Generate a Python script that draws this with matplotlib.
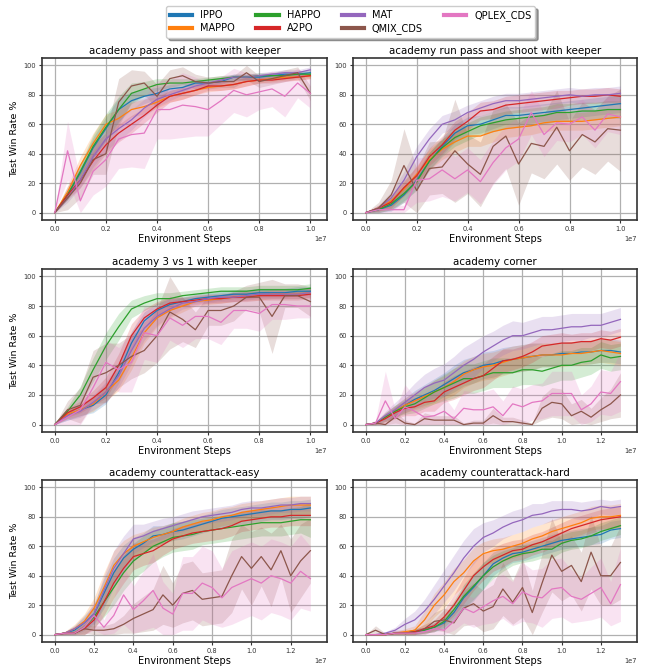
import matplotlib
matplotlib.use("Agg")
import matplotlib.pyplot as plt
import numpy as np

# ---------------- data ----------------
algos = ["IPPO", "MAPPO", "HAPPO", "A2PO", "MAT", "QMIX_CDS", "QPLEX_CDS"]
colors = ["#1f77b4", "#ff7f0e", "#2ca02c", "#d62728", "#9467bd", "#8c564b", "#e377c2"]

steps_10 = [0, 0.05, 0.1, 0.15, 0.2, 0.25, 0.3, 0.35, 0.4, 0.45, 0.5, 0.55, 0.6,
            0.65, 0.7, 0.75, 0.8, 0.85, 0.9, 0.95, 1.0]
steps_13 = [0, 0.05, 0.1, 0.15, 0.2, 0.25, 0.3, 0.35, 0.4, 0.45, 0.5, 0.55, 0.6,
            0.65, 0.7, 0.75, 0.8, 0.85, 0.9, 0.95, 1.0, 1.05, 1.1, 1.15, 1.2, 1.25, 1.3]

titles = ["academy pass and shoot with keeper", "academy run pass and shoot with keeper",
          "academy 3 vs 1 with keeper", "academy corner",
          "academy counterattack-easy", "academy counterattack-hard"]

# panel 1: pass and shoot with keeper
ps_ippo = [0,12,27,44,57,70,76,79,81,84,85,88,88,89,92,92,92,93,94,94,95]
ps_mappo = [0,14,32,47,60,64,70,72,75,79,81,83,85,86,87,89,90,91,92,92,93]
ps_happo = [0,12,28,45,58,70,81,84,87,88,88,89,90,91,92,92,93,93,93,94,94]
ps_a2po = [0,12,22,35,46,54,60,66,73,79,81,83,86,86,87,89,90,90,91,92,93]
ps_mat = [0,10,22,38,50,57,63,71,77,80,83,86,88,90,92,92,93,94,95,95,97]
ps_qmix = [0,10,20,36,40,75,86,88,79,91,93,89,88,89,89,95,89,91,93,95,81]
ps_qplex = [0,42,8,28,36,50,53,54,70,70,73,72,70,76,83,80,82,84,79,88,81]
ps_ippo_sd = [0,3,5,7,8,8,6,5,4,3,3,2,2,2,2,2,2,2,2,2,2]
ps_mappo_sd = [0,4,6,7,7,6,5,5,4,4,4,3,3,3,3,3,2,2,2,2,2]
ps_happo_sd = [0,3,5,8,9,9,7,5,4,3,3,2,2,2,2,2,2,2,2,2,2]
ps_a2po_sd = [0,3,5,6,6,6,6,5,5,4,4,3,3,3,3,3,2,2,2,2,2]
ps_mat_sd = [0,3,5,7,8,8,7,6,5,4,3,3,2,2,2,2,2,2,2,2,2]
ps_qmix_sd = [0,8,10,10,14,16,11,8,8,6,6,5,4,4,4,5,4,4,4,4,5]
ps_qplex_sd = [0,20,14,16,18,20,22,24,20,20,22,20,18,16,15,15,12,12,14,10,10]

# panel 2: run pass and shoot with keeper
rps_ippo = [0,2,5,12,22,35,45,54,59,60,63,66,66,67,68,69,70,71,72,73,74]
rps_mappo = [0,3,8,16,26,36,43,48,52,52,55,57,58,59,61,62,62,62,63,64,65]
rps_happo = [0,2,6,13,21,35,44,51,55,59,61,63,64,65,66,68,68,69,69,70,70]
rps_a2po = [0,3,7,17,25,38,46,56,62,69,70,73,74,75,76,77,78,79,79,80,79]
rps_mat = [0,3,10,22,38,50,60,63,68,71,74,76,76,77,78,79,80,79,80,80,81]
rps_qmix = [0,3,12,32,15,30,31,42,33,26,45,52,33,47,45,58,42,53,48,57,56]
rps_qplex = [0,2,2,2,22,23,29,23,29,21,34,44,50,68,53,61,60,65,56,67,65]
rps_ippo_sd = [0,2,4,5,6,6,6,6,6,6,6,6,6,6,6,6,6,6,6,6,6]
rps_mappo_sd = [0,2,4,5,6,7,7,7,7,7,7,6,6,6,6,6,6,6,6,6,6]
rps_happo_sd = [0,2,4,5,6,6,6,6,6,6,6,6,6,6,6,6,6,6,6,6,6]
rps_a2po_sd = [0,2,4,5,6,6,6,6,6,6,6,6,6,6,6,6,5,5,5,5,5]
rps_mat_sd = [0,2,4,6,7,7,6,6,5,5,5,5,5,5,5,5,5,5,5,5,5]
rps_qmix_sd = [0,4,10,25,15,18,18,35,20,22,25,22,28,20,22,25,20,22,22,22,28]
rps_qplex_sd = [0,2,3,3,15,15,18,15,15,15,15,15,15,15,15,12,12,12,12,12,12]

# panel 3: 3 vs 1 with keeper
v31_ippo = [0,6,10,13,20,35,55,70,77,81,83,85,86,87,88,88,89,89,89,90,90]
v31_mappo = [0,7,10,14,22,30,45,62,72,77,80,83,84,85,86,87,87,88,88,88,89]
v31_happo = [0,9,20,37,53,66,78,82,85,85,87,88,89,90,90,90,91,91,91,91,92]
v31_a2po = [0,8,12,18,25,40,60,72,78,82,83,84,85,85,86,86,87,87,87,87,88]
v31_mat = [0,6,9,15,22,33,50,65,73,78,82,83,85,86,86,87,88,88,88,88,89]
v31_qmix = [0,10,13,32,35,40,46,50,60,76,71,64,77,77,80,86,86,73,87,87,83]
v31_qplex = [0,5,10,25,42,37,42,62,60,72,67,73,73,69,77,77,75,81,81,80,80]
v31_ippo_sd = [0,3,4,5,6,7,8,6,5,4,3,3,3,3,3,3,3,3,3,3,3]
v31_mappo_sd = [0,3,4,5,6,7,8,7,6,5,4,3,3,3,3,3,3,3,3,3,3]
v31_happo_sd = [0,3,6,8,9,9,6,5,4,4,3,3,3,3,3,3,3,3,3,3,3]
v31_a2po_sd = [0,3,4,5,7,8,8,6,5,4,3,3,3,3,3,3,3,3,3,3,3]
v31_mat_sd = [0,3,4,5,7,8,9,8,6,5,4,3,3,3,3,3,3,3,3,3,3]
v31_qmix_sd = [0,6,12,18,20,15,15,15,18,25,15,12,10,10,10,8,10,25,8,8,10]
v31_qplex_sd = [0,5,10,12,15,15,20,18,18,15,15,15,15,15,12,12,12,10,10,8,8]

# panel 4: corner
cor_ippo = [0,1,5,9,13,17,20,23,27,31,35,37,40,41,43,44,45,46,47,47,48,48,49,49,50,50,49]
cor_mappo = [0,1,5,9,13,16,19,22,25,29,34,37,39,40,42,44,45,46,47,47,47,48,48,49,50,49,48]
cor_happo = [0,1,5,9,12,14,18,22,25,28,31,31,33,35,35,35,37,37,36,38,40,40,42,43,47,45,46]
cor_a2po = [0,1,4,8,11,12,15,16,22,25,28,31,33,38,43,44,46,49,53,54,55,55,56,56,58,57,59]
cor_mat = [0,1,6,10,15,20,25,28,30,35,40,44,49,53,57,60,60,62,64,64,65,66,66,67,67,69,71]
cor_qmix = [0,1,0,5,1,0,4,3,3,3,0,1,1,6,2,2,1,0,11,15,14,6,9,5,10,14,20]
cor_qplex = [0,1,16,4,12,9,5,6,9,4,11,10,10,12,6,14,12,15,16,21,21,21,10,14,22,21,29]
cor_ippo_sd = [0,1,3,4,5,6,7,8,8,9,9,9,9,9,9,9,9,9,8,8,8,8,8,8,8,8,8]
cor_mappo_sd = [0,1,3,4,5,6,7,8,8,9,9,9,9,9,9,9,9,9,8,8,8,8,8,8,8,8,8]
cor_happo_sd = [0,1,3,4,5,6,7,8,9,10,10,10,10,10,10,10,10,10,10,10,10,10,10,9,9,9,9]
cor_a2po_sd = [0,1,3,4,5,6,6,7,7,8,8,8,8,8,8,7,7,7,7,7,7,6,6,6,6,6,6]
cor_mat_sd = [0,1,3,5,6,8,9,10,11,11,12,12,11,10,10,10,9,9,9,9,9,9,9,8,8,8,8]
cor_qmix_sd = [0,1,1,4,2,1,4,3,3,3,1,2,2,5,3,3,2,1,8,10,10,8,8,6,8,10,15]
cor_qplex_sd = [0,2,20,6,15,10,8,8,10,6,12,12,12,12,10,12,12,12,12,15,15,15,10,12,15,15,20]

# panel 5: counterattack-easy
cae_ippo = [0,1,3,8,14,28,42,52,58,62,67,68,70,71,73,75,77,79,80,81,82,83,84,84,85,85,86]
cae_mappo = [0,1,4,9,18,32,47,55,60,63,66,68,70,73,75,77,78,80,81,83,84,85,86,87,88,88,88]
cae_happo = [0,1,1,5,12,22,32,42,50,55,60,63,66,67,68,70,71,72,73,74,75,76,76,76,77,78,78]
cae_a2po = [0,1,1,4,10,22,35,45,53,55,57,61,65,67,69,70,71,72,74,77,78,79,80,80,81,81,81]
cae_mat = [0,1,4,8,14,30,45,55,65,67,70,72,74,76,78,80,81,82,83,85,86,86,87,88,88,89,89]
cae_qmix = [0,1,1,4,3,3,4,7,11,14,17,27,20,28,30,24,25,26,40,53,45,53,44,57,40,50,57]
cae_qplex = [0,1,1,5,13,5,13,27,17,23,30,18,14,28,28,35,32,25,32,35,38,35,40,38,35,43,38]
cae_ippo_sd = [0,1,3,5,7,10,10,9,8,7,7,6,6,6,6,6,6,6,6,6,6,6,6,6,6,6,6]
cae_mappo_sd = [0,1,3,5,7,10,10,9,8,7,7,6,6,6,6,6,6,6,6,6,6,6,6,6,6,6,6]
cae_happo_sd = [0,1,2,5,7,10,12,12,12,12,11,10,10,10,10,9,9,9,9,9,9,9,9,9,9,9,12]
cae_a2po_sd = [0,1,2,4,6,9,10,10,9,8,8,7,7,7,7,7,7,7,7,7,7,7,7,7,7,7,7]
cae_mat_sd = [0,1,2,4,6,10,12,12,10,8,7,7,6,6,6,5,5,5,5,5,5,5,5,5,5,5,5]
cae_qmix_sd = [0,1,1,3,3,3,4,6,10,12,14,20,15,20,20,18,18,18,25,22,25,20,25,18,25,25,22]
cae_qplex_sd = [0,1,1,5,10,5,12,20,16,20,25,18,14,25,25,25,25,20,25,25,25,25,25,25,25,25,22]

# panel 6: counterattack-hard
cah_ippo = [0,0,0,1,1,2,3,5,8,15,25,32,40,48,52,55,56,58,60,62,64,65,66,67,68,71,72]
cah_mappo = [0,0,0,1,2,3,10,20,27,36,42,50,55,57,58,60,62,65,67,70,72,74,76,79,80,80,81]
cah_happo = [0,0,0,1,1,2,3,5,9,17,26,33,40,46,50,53,55,56,58,58,62,64,65,67,70,72,74]
cah_a2po = [0,0,0,1,1,2,4,6,12,20,30,40,46,51,54,57,58,61,63,66,69,72,74,76,78,79,80]
cah_mat = [0,0,1,3,7,10,16,24,33,42,52,60,66,69,73,76,78,81,82,84,85,85,84,85,87,86,87]
cah_qmix = [0,3,0,1,1,1,4,9,10,8,18,21,16,19,31,22,32,15,35,54,43,47,36,56,40,40,49]
cah_qplex = [0,0,0,1,1,1,2,4,3,9,18,15,19,23,26,21,29,26,25,31,32,26,24,28,32,21,34]
cah_ippo_sd = [0,0,0,1,1,2,2,3,4,6,8,9,9,8,7,6,6,6,6,6,6,6,6,6,6,6,6]
cah_mappo_sd = [0,0,0,1,2,3,6,8,9,9,9,9,8,8,8,8,8,8,8,8,8,8,8,8,8,8,8]
cah_happo_sd = [0,0,0,1,1,2,2,3,4,6,8,9,9,8,7,6,6,6,6,6,6,6,6,6,6,6,6]
cah_a2po_sd = [0,0,0,1,1,2,3,4,5,7,9,10,9,8,8,7,7,7,7,7,7,7,7,7,7,7,7]
cah_mat_sd = [0,0,1,2,4,6,8,10,11,12,12,12,10,9,8,8,8,8,7,7,6,6,6,6,5,5,5]
cah_qmix_sd = [0,3,1,2,2,2,4,6,8,8,12,14,14,15,18,15,20,15,20,25,20,20,20,25,20,20,25]
cah_qplex_sd = [0,1,1,2,2,2,3,4,4,6,10,10,12,15,15,15,20,18,20,20,20,18,15,18,20,15,25]

panels = [
    (steps_10, [ps_ippo, ps_mappo, ps_happo, ps_a2po, ps_mat, ps_qmix, ps_qplex],
     [ps_ippo_sd, ps_mappo_sd, ps_happo_sd, ps_a2po_sd, ps_mat_sd, ps_qmix_sd, ps_qplex_sd]),
    (steps_10, [rps_ippo, rps_mappo, rps_happo, rps_a2po, rps_mat, rps_qmix, rps_qplex],
     [rps_ippo_sd, rps_mappo_sd, rps_happo_sd, rps_a2po_sd, rps_mat_sd, rps_qmix_sd, rps_qplex_sd]),
    (steps_10, [v31_ippo, v31_mappo, v31_happo, v31_a2po, v31_mat, v31_qmix, v31_qplex],
     [v31_ippo_sd, v31_mappo_sd, v31_happo_sd, v31_a2po_sd, v31_mat_sd, v31_qmix_sd, v31_qplex_sd]),
    (steps_13, [cor_ippo, cor_mappo, cor_happo, cor_a2po, cor_mat, cor_qmix, cor_qplex],
     [cor_ippo_sd, cor_mappo_sd, cor_happo_sd, cor_a2po_sd, cor_mat_sd, cor_qmix_sd, cor_qplex_sd]),
    (steps_13, [cae_ippo, cae_mappo, cae_happo, cae_a2po, cae_mat, cae_qmix, cae_qplex],
     [cae_ippo_sd, cae_mappo_sd, cae_happo_sd, cae_a2po_sd, cae_mat_sd, cae_qmix_sd, cae_qplex_sd]),
    (steps_13, [cah_ippo, cah_mappo, cah_happo, cah_a2po, cah_mat, cah_qmix, cah_qplex],
     [cah_ippo_sd, cah_mappo_sd, cah_happo_sd, cah_a2po_sd, cah_mat_sd, cah_qmix_sd, cah_qplex_sd]),
]

# ---------------- figure ----------------
W, H = 646, 667
fig = plt.figure(figsize=(W / 100, H / 100), dpi=100)

col_x = [(42, 327), (353, 637)]
row_y = [(58, 220), (269, 432), (480, 642)]

handles = []
for i, (steps, means, sds) in enumerate(panels):
    r, c = divmod(i, 2)
    x0, x1 = col_x[c]
    y0, y1 = row_y[r]
    ax = fig.add_axes([x0 / W, 1 - y1 / H, (x1 - x0) / W, (y1 - y0) / H])
    x = np.array(steps) * 1e7
    for k in range(len(algos)):
        m = np.array(means[k], dtype=float)
        s = np.array(sds[k], dtype=float)
        ax.fill_between(x, np.clip(m - s, 0, 100), np.clip(m + s, 0, 100),
                        color=colors[k], alpha=0.2, linewidth=0)
        ln, = ax.plot(x, m, color=colors[k], linewidth=0.9, label=algos[k])
        if i == 0:
            handles.append(ln)
    xmax = steps[-1] * 1e7
    ax.set_xlim(-0.05 * xmax, xmax * 1.065)
    ax.set_ylim(-5, 105)
    ax.set_yticks([0, 20, 40, 60, 80, 100])
    if steps[-1] > 1.1:
        ax.set_xticks(np.array([0, 0.2, 0.4, 0.6, 0.8, 1.0, 1.2]) * 1e7)
    else:
        ax.set_xticks(np.array([0, 0.2, 0.4, 0.6, 0.8, 1.0]) * 1e7)
    ax.grid(True, color="#b0b0b0", linewidth=0.9)
    ax.set_axisbelow(True)
    for sp in ax.spines.values():
        sp.set_color("#333333")
        sp.set_linewidth(1.2)
    ax.tick_params(labelsize=4.8, length=2.5, width=0.8, color="#333333",
                   labelcolor="#333333", pad=2)
    ax.xaxis.get_offset_text().set_fontsize(4.8)
    ax.set_title(titles[i], fontsize=7.4, pad=3)
    ax.set_xlabel("Environment Steps", fontsize=7.0, labelpad=1)
    if c == 0:
        ax.set_ylabel("Test Win Rate %", fontsize=6.8, labelpad=3)

leg = fig.legend(handles=handles, labels=algos, loc="upper center", ncol=4,
                 bbox_to_anchor=(0.543, 0.998), fontsize=7, handlelength=2.3,
                 columnspacing=2.2, frameon=True, shadow=True, fancybox=True,
                 borderpad=0.4, labelspacing=0.3)
for lh in leg.get_lines():
    lh.set_linewidth(3)

fig.savefig("out.png", dpi=100)
